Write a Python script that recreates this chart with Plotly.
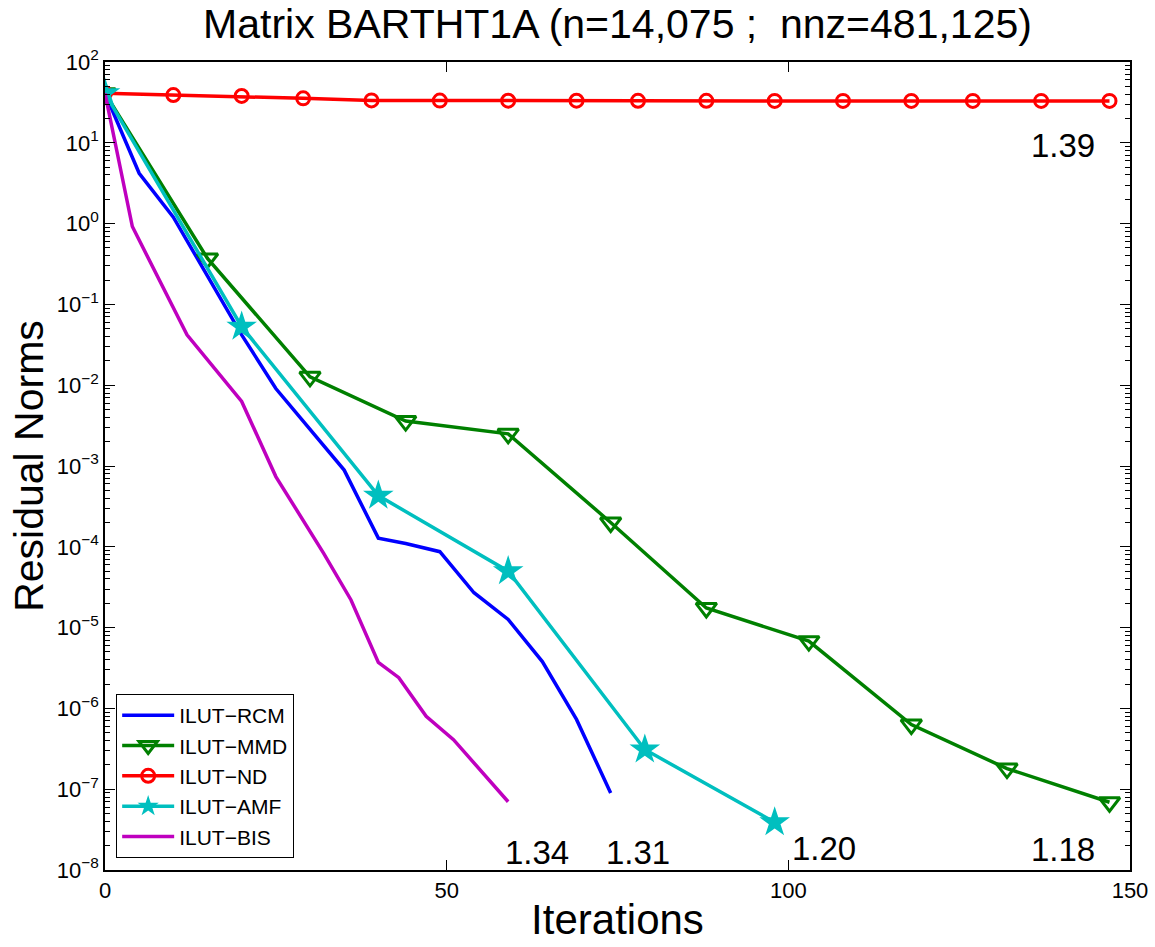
import plotly.graph_objects as go

# ---- data ----
rcm_iter = [0, 5, 10, 20, 25, 30, 35, 40, 44, 49, 54, 59, 64, 69, 74]
rcm_res = [41, 4.2, 1.2, 0.042, 9.1e-3, 2.8e-3, 8.9e-4, 1.28e-4, 1.1e-4, 8.7e-5,
           2.7e-5, 1.26e-5, 3.8e-6, 7.3e-7, 9.0e-8]

mmd_iter = [0, 15, 30, 44, 59, 74, 88, 103, 118, 132, 147]
mmd_res = [41, 0.37, 0.0127, 3.6e-3, 2.5e-3, 2.0e-4, 1.75e-5, 6.8e-6, 6.3e-7, 1.8e-7, 6.9e-8]

nd_iter = [0, 10, 20, 29, 39, 49, 59, 69, 78, 88, 98, 108, 118, 127, 137, 147]
nd_res = [41, 39, 38, 35.5, 33.5, 33.3, 33.2, 33.2, 33.1, 33.1, 33.0, 33.0, 33.0, 33.0, 33.0, 33.0]

amf_iter = [0, 20, 40, 59, 79, 98]
amf_res = [41, 0.053, 4.3e-4, 5.0e-5, 3.1e-7, 3.9e-8]

bis_iter = [0, 4, 12, 16, 20, 25, 32, 36, 40, 43, 47, 51, 59]
bis_res = [41, 0.92, 0.042, 0.016, 6.3e-3, 7.4e-4, 8.3e-5, 2.2e-5, 3.7e-6, 2.4e-6,
           8.0e-7, 4.1e-7, 7.0e-8]

series_names = ["ILUT\u2212RCM", "ILUT\u2212MMD", "ILUT\u2212ND", "ILUT\u2212AMF", "ILUT\u2212BIS"]
ratio_labels = ["1.39", "1.34", "1.31", "1.20", "1.18"]

x_ticks = [0, 50, 100, 150]
y_tick_exps = [-8, -7, -6, -5, -4, -3, -2, -1, 0, 1, 2]

title_text = "Matrix BARTHT1A (n=14,075 ;\u00a0 nnz=481,125)"

FONT = "Liberation Sans, Arial, Helvetica, sans-serif"

fig = go.Figure()

fig.add_trace(go.Scatter(x=rcm_iter, y=rcm_res, name=series_names[0], mode="lines",
                         line=dict(color="#0000FF", width=3.5)))
fig.add_trace(go.Scatter(x=mmd_iter, y=mmd_res, name=series_names[1], mode="lines+markers",
                         line=dict(color="#008000", width=3.5),
                         marker=dict(symbol="triangle-down-open", size=18, color="#008000",
                                     line=dict(width=3, color="#008000"))))
fig.add_trace(go.Scatter(x=nd_iter, y=nd_res, name=series_names[2], mode="lines+markers",
                         line=dict(color="#FF0000", width=3.5),
                         marker=dict(symbol="circle-open", size=13, color="#FF0000",
                                     line=dict(width=3, color="#FF0000"))))
fig.add_trace(go.Scatter(x=amf_iter, y=amf_res, name=series_names[3], mode="lines+markers",
                         line=dict(color="#00BFBF", width=3.5),
                         marker=dict(symbol="star", size=23, color="#00BFBF",
                                     line=dict(width=0))))
fig.add_trace(go.Scatter(x=bis_iter, y=bis_res, name=series_names[4], mode="lines",
                         line=dict(color="#BF00BF", width=3.5)))

# ratio annotations (positions in axis units: x iterations, y log10)
ann_pos = [(140.2, 0.97), (63.2, -7.78), (78.0, -7.78), (105.2, -7.73), (140.2, -7.75)]
for txt, (ax_, ay_) in zip(ratio_labels, ann_pos):
    fig.add_annotation(x=ax_, y=ay_, xref="x", yref="y", text=txt, showarrow=False,
                       font=dict(family=FONT, size=33, color="black"),
                       xanchor="center", yanchor="middle")

fig.update_layout(
    width=1155, height=947,
    margin=dict(l=105, r=25, t=62, b=77, autoexpand=False),
    paper_bgcolor="white", plot_bgcolor="white",
    font=dict(family=FONT, color="black"),
    title=dict(text=title_text, x=0.5, xref="paper", y=0.9755, yref="container",
               xanchor="center", yanchor="middle",
               font=dict(family=FONT, size=41, color="black")),
    showlegend=True,
    legend=dict(x=0.0107, y=0.015, xanchor="left", yanchor="bottom",
                bgcolor="white", bordercolor="black", borderwidth=1.2,
                font=dict(family=FONT, size=21, color="black"),
                itemwidth=52, tracegroupgap=0),
)

fig.update_xaxes(
    range=[0, 150], tickmode="array", tickvals=x_ticks,
    ticktext=[str(v) for v in x_ticks],
    ticks="inside", ticklen=10, tickwidth=1.2, tickcolor="black",
    showline=True, linecolor="black", linewidth=1.5, mirror="allticks",
    showgrid=False, zeroline=False,
    tickfont=dict(family=FONT, size=22, color="black"),
    title=dict(text="Iterations", font=dict(family=FONT, size=42, color="black"), standoff=2),
)

fig.update_yaxes(
    type="log", range=[-8, 2], tickmode="array",
    tickvals=[10.0 ** e for e in y_tick_exps],
    ticktext=["10<sup>%s</sup>" % (str(e).replace("-", "\u2212")) for e in y_tick_exps],
    ticks="inside", ticklen=10, tickwidth=1.2, tickcolor="black",
    minor=dict(ticks="inside", ticklen=5, tickwidth=1, tickcolor="black", dtick="D1", showgrid=False),
    showline=True, linecolor="black", linewidth=1.5, mirror="allticks",
    showgrid=False, zeroline=False,
    tickfont=dict(family=FONT, size=22, color="black"),
    title=dict(text="Residual Norms", font=dict(family=FONT, size=41, color="black"), standoff=0),
)

fig.write_html("out.html", config={"displayModeBar": False},
               post_script="document.body.style.margin='0px';document.body.style.padding='0px';")
